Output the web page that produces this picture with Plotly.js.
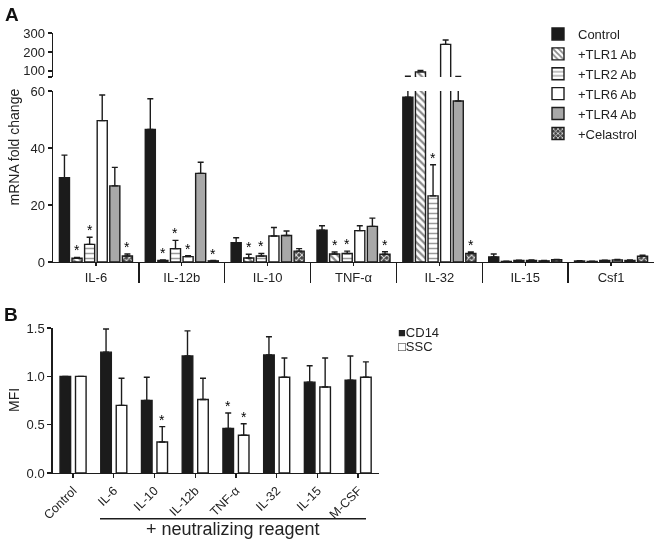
<!DOCTYPE html>
<html><head><meta charset="utf-8">
<script src="https://cdn.plot.ly/plotly-3.0.1.min.js"></script>
<style>html,body{margin:0;padding:0;background:#fff}#chart{width:660px;height:542px;will-change:transform}</style>
</head><body><div id="chart"></div>
<script>
// ---------- Panel A data ----------
const genes = ['IL-6', 'IL-12b', 'IL-10', 'TNF-α', 'IL-32', 'IL-15', 'Csf1'];
const seriesNamesA = ['Control', '+TLR1 Ab', '+TLR2 Ab', '+TLR6 Ab', '+TLR4 Ab', '+Celastrol'];
const control    = [29.6, 46.5, 6.8, 11.2, 57.8, 1.8, 0.35];
const controlErr = [7.9, 10.8, 1.7, 1.5, 14, 1.0, 0.1];
const tlr1       = [1.3, 0.5, 1.4, 2.8, 95, 0.2, 0.2];
const tlr1Err    = [0.3, 0.2, 1.3, 0.7, 8, 0.1, 0.1];
const tlr2       = [6.2, 4.7, 2.1, 3.0, 23.2, 0.5, 0.5];
const tlr2Err    = [2.5, 2.9, 0.9, 0.8, 10.9, 0.1, 0.15];
const tlr6       = [49.6, 1.9, 9.1, 11.0, 240, 0.5, 0.7];
const tlr6Err    = [9.0, 0.3, 3.0, 1.7, 23, 0.2, 0.2];
const tlr4       = [26.7, 31.1, 9.3, 12.5, 56.5, 0.4, 0.5];
const tlr4Err    = [6.5, 3.9, 1.6, 2.9, 14, 0.1, 0.2];
const cel        = [2.1, 0.4, 3.8, 2.7, 3.0, 0.8, 2.0];
const celErr     = [0.7, 0.1, 0.9, 0.9, 0.5, 0.1, 0.4];
const controlSig = [0, 0, 0, 0, 0, 0, 0];
const tlr1Sig    = [1, 1, 1, 1, 0, 0, 0];
const tlr2Sig    = [1, 1, 1, 1, 1, 0, 0];
const tlr6Sig    = [0, 1, 0, 0, 0, 0, 0];
const tlr4Sig    = [0, 0, 0, 0, 0, 0, 0];
const celSig     = [1, 1, 0, 1, 1, 0, 0];
const lowerTicks = [0, 20, 40, 60];
const upperTicks = [100, 200, 300];

// ---------- Panel B data ----------
const treatments = ['Control', 'IL-6', 'IL-10', 'IL-12b', 'TNF-α', 'IL-32', 'IL-15', 'M-CSF'];
const cd14    = [1.0, 1.25, 0.75, 1.21, 0.46, 1.22, 0.94, 0.96];
const cd14Err = [0, 0.24, 0.24, 0.26, 0.16, 0.19, 0.17, 0.25];
const ssc     = [1.0, 0.70, 0.32, 0.76, 0.39, 0.99, 0.89, 0.99];
const sscErr  = [0, 0.28, 0.16, 0.22, 0.12, 0.20, 0.30, 0.16];
const cd14Sig = [0, 0, 0, 0, 1, 0, 0, 0];
const sscSig  = [0, 0, 1, 0, 1, 0, 0, 0];
const mfiTicks = [0, 0.5, 1.0, 1.5];

// ---------- helpers ----------
const W = 660, H = 542;
const px = v => v / W;
const py = v => 1 - v / H;
const INK = '#1c1c1c';
const FONT = 'Liberation Sans, Arial, sans-serif';
const upperMin = 68;
const bargap = 0.12, bargroupgap = 0.2;

const xIdx = genes.map((g, i) => i);
const bounds = genes.slice(1).map((g, i) => i + 0.5);
const zerosA = genes.map(() => 0);
const zerosB = treatments.map(() => 0);
const line = {color: INK, width: 1.4};

const stylesA = [
  {color: '#1b1b1b'},
  {color: '#ffffff', pattern: {shape: '\\', fgcolor: '#8a8a8a', bgcolor: '#ffffff', size: 5, solidity: 0.45}},
  {color: '#ffffff', pattern: {shape: '-', fgcolor: '#9a9a9a', bgcolor: '#ffffff', size: 5, solidity: 0.3}},
  {color: '#ffffff'},
  {color: '#a8a8a8'},
  {color: '#555555', pattern: {shape: 'x', fgcolor: '#dddddd', bgcolor: '#444444', size: 4, solidity: 0.45}}
];
const valsA = [control, tlr1, tlr2, tlr6, tlr4, cel];
const errsA = [controlErr, tlr1Err, tlr2Err, tlr6Err, tlr4Err, celErr];
const sigsA = [controlSig, tlr1Sig, tlr2Sig, tlr6Sig, tlr4Sig, celSig];

const data = [];
const annotations = [];
const nA = seriesNamesA.length;
const slot = (1 - bargap) / nA;
const starFont = {size: 14, color: '#000000', family: FONT};

seriesNamesA.forEach((name, k) => {
  ['y', 'y2'].forEach(ax => {
    data.push({
      type: 'bar', name: name, x: xIdx, y: valsA[k], xaxis: 'x', yaxis: ax,
      showlegend: ax === 'y', legendgroup: name,
      marker: Object.assign({}, stylesA[k], {line: line}),
      error_y: {type: 'data', symmetric: false, array: errsA[k], arrayminus: zerosA,
                color: INK, thickness: 1.4, width: 3},
      hoverinfo: 'skip'
    });
  });
  sigsA[k].forEach((s, i) => {
    if (!s) return;
    annotations.push({
      xref: 'x', yref: 'y', x: i - (1 - bargap) / 2 + slot * (k + 0.5),
      y: valsA[k][i] + errsA[k][i], text: '*', showarrow: false,
      xanchor: 'center', yanchor: 'bottom', yshift: -3, font: starFont
    });
  });
});

// Panel B bars (explicit offsets)
const bW = 0.26;
const bOff = [-0.32, 0.06];
const valsB = [cd14, ssc];
const errsB = [cd14Err, sscErr];
const sigsB = [cd14Sig, sscSig];
const colsB = ['#1b1b1b', '#ffffff'];
['CD14', 'SSC'].forEach((name, k) => {
  data.push({
    type: 'bar', name: name, x: treatments, y: valsB[k], xaxis: 'x2', yaxis: 'y3',
    width: bW, offset: bOff[k], showlegend: false,
    marker: {color: colsB[k], line: line},
    error_y: {type: 'data', symmetric: false, array: errsB[k], arrayminus: zerosB,
              color: INK, thickness: 1.4, width: 3},
    hoverinfo: 'skip'
  });
  sigsB[k].forEach((s, i) => {
    if (!s) return;
    annotations.push({
      xref: 'x2', yref: 'y3', x: i + bOff[k] + bW / 2,
      y: valsB[k][i] + errsB[k][i], text: '*', showarrow: false,
      xanchor: 'center', yanchor: 'bottom', yshift: -3, font: starFont
    });
  });
});

const axisCommon = {
  showline: true, linecolor: INK, linewidth: 1.4, ticks: 'outside', tickwidth: 1.4,
  tickcolor: INK, showgrid: false, zeroline: false, fixedrange: true, automargin: false,
  tickfont: {size: 13, color: '#222', family: FONT}
};

function paperText(x, y, text, size, extra) {
  return Object.assign({xref: 'paper', yref: 'paper', x: px(x), y: py(y), text: text,
    showarrow: false, xanchor: 'center', yanchor: 'middle',
    font: {size: size, color: '#222', family: FONT}}, extra || {});
}

annotations.push(
  paperText(3, 2, '<b>A</b>', 19, {xanchor: 'left', yanchor: 'top', font: {size: 19, color: '#111', family: FONT}}),
  paperText(2, 302, '<b>B</b>', 19, {xanchor: 'left', yanchor: 'top', font: {size: 19, color: '#111', family: FONT}}),
  paperText(14, 147.5, 'mRNA fold change', 14, {textangle: -90}),
  paperText(14, 400, 'MFI', 14, {textangle: -90}),
  paperText(232.5, 529, '+ neutralizing reagent', 18),
  paperText(396, 332, '■CD14', 13, {xanchor: 'left'}),
  paperText(396, 346, '□SSC', 13, {xanchor: 'left'})
);

const layout = {
  width: W, height: H, margin: {l: 0, r: 0, t: 0, b: 0},
  paper_bgcolor: '#fff', plot_bgcolor: '#fff',
  font: {family: FONT, color: '#222', size: 13},
  barmode: 'group', bargap: bargap, bargroupgap: bargroupgap,
  showlegend: true,
  legend: {x: px(538), y: py(19), xanchor: 'left', yanchor: 'top',
           font: {size: 13, color: '#222', family: FONT}, bgcolor: 'rgba(0,0,0,0)',
           tracegroupgap: 0, itemclick: false, itemdoubleclick: false},
  xaxis: Object.assign({}, axisCommon, {
    domain: [px(53), px(654)], anchor: 'y', range: [-0.5, 6.5],
    tickmode: 'array', tickvals: xIdx, ticktext: genes, ticklen: 3,
    minor: {tickmode: 'array', tickvals: bounds, ticks: 'outside', ticklen: 20,
            tickwidth: 1.4, tickcolor: INK, showgrid: false}
  }),
  yaxis: Object.assign({}, axisCommon, {
    domain: [py(262), py(91)], anchor: 'x', range: [0, 60],
    tickmode: 'array', tickvals: lowerTicks, ticklen: 4
  }),
  yaxis2: Object.assign({}, axisCommon, {
    domain: [py(77), py(33)], anchor: 'x', range: [upperMin, 300],
    tickmode: 'array', tickvals: [upperMin].concat(upperTicks),
    ticktext: [''].concat(upperTicks.map(String)), ticklen: 4
  }),
  xaxis2: Object.assign({}, axisCommon, {
    domain: [px(52.7), px(378.5)], anchor: 'y3', type: 'category',
    range: [-0.5, treatments.length - 0.5], ticklen: 4, tickangle: -45,
    tickfont: {size: 12.5, color: '#222', family: FONT}
  }),
  yaxis3: Object.assign({}, axisCommon, {
    domain: [py(473), py(328)], anchor: 'x2', range: [0, 1.5],
    tickmode: 'array', tickvals: mfiTicks, tickformat: '.1f', ticklen: 4
  }),
  shapes: [
    {type: 'line', xref: 'paper', yref: 'paper', x0: px(100), x1: px(366),
     y0: py(518.7), y1: py(518.7), line: {color: INK, width: 1.4}}
  ],
  annotations: annotations
};

Plotly.newPlot('chart', data, layout, {displayModeBar: false, staticPlot: true});
</script>
</body></html>
